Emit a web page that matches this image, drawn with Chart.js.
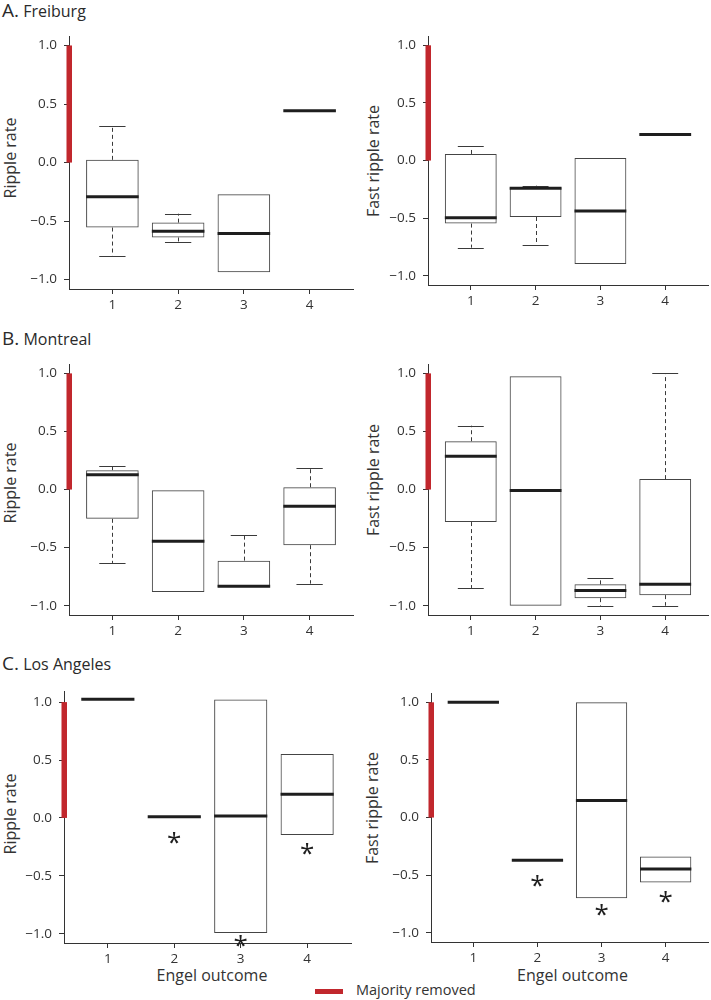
<!DOCTYPE html>
<html><head><meta charset="utf-8">
<script src="https://cdn.jsdelivr.net/npm/chart.js@4.4.1/dist/chart.umd.min.js"></script>
<style>
html,body{margin:0;padding:0;background:#fff;overflow:hidden}
#page{position:relative;width:711px;height:1000px;font-family:'Open Sans',sans-serif;color:#2a2a2a}
.panel{position:absolute}
.title{position:absolute;white-space:nowrap;line-height:normal}
.ylab{position:absolute;white-space:nowrap;font-size:16px;color:#333;line-height:normal;transform:translate(-50%,-50%) rotate(-90deg)}
.xlab{position:absolute;white-space:nowrap;font-size:16px;color:#333;line-height:normal;transform:translateX(-50%)}
</style></head>
<body><div id="page">
<div class="title" style="left:2px;top:-3px"><span style="font-size:19px">A.</span> <span style="font-size:16px">Freiburg</span></div>
<div class="title" style="left:2px;top:325px"><span style="font-size:19px">B.</span> <span style="font-size:16px">Montreal</span></div>
<div class="title" style="left:2px;top:650px"><span style="font-size:19px">C.</span> <span style="font-size:16px">Los Angeles</span></div>
<div class="ylab" style="left:9.5px;top:158px">Ripple rate</div>
<div class="ylab" style="left:372.5px;top:161px">Fast ripple rate</div>
<div class="ylab" style="left:9.5px;top:483px">Ripple rate</div>
<div class="ylab" style="left:372.5px;top:480px">Fast ripple rate</div>
<div class="ylab" style="left:9.5px;top:814px">Ripple rate</div>
<div class="ylab" style="left:372px;top:808px">Fast ripple rate</div>
<div class="xlab" style="left:212px;top:964px">Engel outcome</div>
<div class="xlab" style="left:572.5px;top:964px">Engel outcome</div>
<div style="position:absolute;left:315px;top:989px;width:28px;height:4.5px;background:#c1272d"></div>
<div class="title" style="left:356px;top:979.5px;font-size:14.5px;color:#333">Majority removed</div>
</div>
<script>
// ---- shared axes ----
const outcomes = [1, 2, 3, 4];
const outcomeLabels = ['1', '2', '3', '4'];
const yTicks = [-1, -0.5, 0, 0.5, 1];
const removedRange = [0, 1];

// ---- A. Freiburg, ripple rate ----
const frRipLow  = [-0.795, -0.682, null, null];
const frRipQ1   = [-0.555, -0.640, -0.936, null];
const frRipMed  = [-0.293, -0.586, -0.606, 0.442];
const frRipQ3   = [0.023, -0.513, -0.270, null];
const frRipHigh = [0.310, -0.437, null, null];
const frRipStar = [null, null, null, null];

// ---- A. Freiburg, fast ripple rate ----
const frFrLow  = [-0.756, -0.733, null, null];
const frFrQ1   = [-0.547, -0.490, -0.897, null];
const frFrMed  = [-0.496, -0.241, -0.438, 0.226];
const frFrQ3   = [0.057, -0.232, 0.023, null];
const frFrHigh = [0.123, -0.218, null, null];
const frFrStar = [null, null, null, null];

// ---- B. Montreal, ripple rate ----
const mtRipLow  = [-0.632, null, null, -0.810];
const mtRipQ1   = [-0.252, -0.881, -0.841, -0.479];
const mtRipMed  = [0.127, -0.445, -0.833, -0.144];
const mtRipQ3   = [0.167, -0.006, -0.612, 0.020];
const mtRipHigh = [0.207, null, -0.391, 0.187];
const mtRipStar = [null, null, null, null];

// ---- B. Montreal, fast ripple rate ----
const mtFrLow  = [-0.847, null, -1.0, -1.0];
const mtFrQ1   = [-0.280, -1.0, -0.935, -0.909];
const mtFrMed  = [0.286, -0.008, -0.870, -0.816];
const mtFrQ3   = [0.416, 0.975, -0.816, 0.090];
const mtFrHigh = [0.550, null, -0.765, 1.0];
const mtFrStar = [null, null, null, null];

// ---- C. Los Angeles, ripple rate ----
const laRipLow  = [null, null, null, null];
const laRipQ1   = [null, null, -0.994, -0.147];
const laRipMed  = [1.025, 0.011, 0.017, 0.204];
const laRipQ3   = [null, null, 1.023, 0.552];
const laRipHigh = [null, null, null, null];
const laRipStar = [null, -0.17, -1.06, -0.27];

// ---- C. Los Angeles, fast ripple rate ----
const laFrLow  = [null, null, null, null];
const laFrQ1   = [null, null, -0.700, -0.563];
const laFrMed  = [1.0, -0.371, 0.149, -0.446];
const laFrQ3   = [null, null, 1.0, -0.337];
const laFrHigh = [null, null, null, null];
const laFrStar = [null, -0.55, -0.80, -0.69];

const panels = [
  {rect:[69,353,33,289],  ymax:1.08,  low:frRipLow, q1:frRipQ1, med:frRipMed, q3:frRipQ3, high:frRipHigh, star:frRipStar},
  {rect:[428,708,33,285], ymax:1.08,  low:frFrLow,  q1:frFrQ1,  med:frFrMed,  q3:frFrQ3,  high:frFrHigh,  star:frFrStar},
  {rect:[69,353,361,615], ymax:1.08,  low:mtRipLow, q1:mtRipQ1, med:mtRipMed, q3:mtRipQ3, high:mtRipHigh, star:mtRipStar},
  {rect:[428,708,361,615],ymax:1.08,  low:mtFrLow,  q1:mtFrQ1,  med:mtFrMed,  q3:mtFrQ3,  high:mtFrHigh,  star:mtFrStar},
  {rect:[64,351,688,943], ymax:1.095, low:laRipLow, q1:laRipQ1, med:laRipMed, q3:laRipQ3, high:laRipHigh, star:laRipStar},
  {rect:[431,708,690,942],ymax:1.08,  low:laFrLow,  q1:laFrQ1,  med:laFrMed,  q3:laFrQ3,  high:laFrHigh,  star:laFrStar}
];

const PADL = 44, PADT = 12, PADR = 8, PADB = 28;
const FONT = "'Open Sans', sans-serif";
const RED = '#c1272d';

function boxPlugin(p) {
  return {
    id: 'boxExtras',
    afterDatasetsDraw(chart) {
      const ctx = chart.ctx, xs = chart.scales.x, ys = chart.scales.y;
      const u = xs.getPixelForValue(1) - xs.getPixelForValue(0);
      ctx.save();
      outcomes.forEach((o, i) => {
        const cx = xs.getPixelForValue(o);
        ctx.strokeStyle = '#3a3a3a';
        ctx.lineWidth = 1;
        const whisk = (from, to) => {
          if (to == null || from == null) return;
          ctx.setLineDash([4, 3]);
          ctx.beginPath();
          ctx.moveTo(Math.round(cx) + 0.5, ys.getPixelForValue(from));
          ctx.lineTo(Math.round(cx) + 0.5, ys.getPixelForValue(to));
          ctx.stroke();
          ctx.setLineDash([]);
          const yy = Math.round(ys.getPixelForValue(to)) + 0.5;
          ctx.beginPath();
          ctx.moveTo(cx - 0.2 * u, yy);
          ctx.lineTo(cx + 0.2 * u, yy);
          ctx.stroke();
        };
        whisk(p.q3[i], p.high[i]);
        whisk(p.q1[i], p.low[i]);
        if (p.med[i] != null) {
          ctx.strokeStyle = '#1e1e1e';
          ctx.lineWidth = 3;
          ctx.lineCap = 'butt';
          const y = ys.getPixelForValue(p.med[i]);
          ctx.beginPath();
          ctx.moveTo(cx - 0.4 * u, y);
          ctx.lineTo(cx + 0.4 * u, y);
          ctx.stroke();
        }
        if (p.star[i] != null) {
          ctx.fillStyle = '#1e1e1e';
          ctx.font = "26px " + FONT;
          ctx.textAlign = 'center';
          ctx.textBaseline = 'alphabetic';
          const m = ctx.measureText('*');
          const y = ys.getPixelForValue(p.star[i]);
          const off = (m.actualBoundingBoxAscent - m.actualBoundingBoxDescent) / 2;
          ctx.fillText('*', cx, y + off);
        }
      });
      ctx.restore();
    },
    afterDraw(chart) {
      const ctx = chart.ctx, ys = chart.scales.y;
      const x = chart.chartArea.left;
      const y1 = ys.getPixelForValue(removedRange[1]);
      const y0 = ys.getPixelForValue(removedRange[0]);
      ctx.save();
      ctx.fillStyle = RED;
      ctx.fillRect(x - 2.5, y1, 5.5, y0 - y1);
      ctx.restore();
    }
  };
}

function makePanel(p) {
  const [L, R, T, B] = p.rect;
  const w = R - L + PADL + PADR, h = B - T + PADT + PADB;
  const div = document.createElement('div');
  div.className = 'panel';
  div.style.left = (L - PADL) + 'px';
  div.style.top = (T - PADT) + 'px';
  div.style.width = w + 'px';
  div.style.height = h + 'px';
  const cv = document.createElement('canvas');
  cv.width = w; cv.height = h;
  cv.style.width = w + 'px'; cv.style.height = h + 'px';
  div.appendChild(cv);
  document.getElementById('page').appendChild(div);

  const boxes = [];
  outcomes.forEach((o, i) => {
    if (p.q1[i] != null && p.q3[i] != null) boxes.push({x: o, y: [p.q1[i], p.q3[i]]});
  });

  new Chart(cv, {
    type: 'bar',
    data: {datasets: [{
      data: boxes,
      backgroundColor: 'rgba(255,255,255,0)',
      borderColor: '#444',
      borderWidth: 1,
      borderSkipped: false,
      categoryPercentage: 0.8,
      barPercentage: 1.0
    }]},
    options: {
      responsive: false,
      animation: false,
      devicePixelRatio: 1,
      layout: {padding: {left: 0, top: PADT, right: PADR, bottom: 0}},
      plugins: {legend: {display: false}, tooltip: {enabled: false}},
      scales: {
        x: {
          type: 'linear', min: 0.34, max: 4.66, offset: false,
          afterBuildTicks: s => { s.ticks = outcomes.map(v => ({value: v})); },
          afterFit: s => { s.height = PADB; },
          ticks: {
            callback: v => outcomeLabels[outcomes.indexOf(v)],
            color: '#333', font: {size: 13.5, family: FONT}, padding: 3,
            maxRotation: 0, autoSkip: false
          },
          grid: {drawOnChartArea: false, drawTicks: true, tickLength: 5, color: '#333', offset: false},
          border: {display: true, color: '#333', width: 1}
        },
        y: {
          type: 'linear', min: -1.08, max: p.ymax, beginAtZero: false,
          afterBuildTicks: s => { s.ticks = yTicks.map(v => ({value: v})); },
          afterFit: s => { s.width = PADL; },
          ticks: {
            callback: v => (v < 0 ? '\u2212' : '') + Math.abs(v).toFixed(1),
            color: '#333', font: {size: 13.5, family: FONT}, padding: 7
          },
          grid: {drawOnChartArea: false, drawTicks: true, tickLength: 5, color: '#333'},
          border: {display: true, color: '#333', width: 1}
        }
      }
    },
    plugins: [boxPlugin(p)]
  });
}

panels.forEach(makePanel);
</script>
</body></html>
